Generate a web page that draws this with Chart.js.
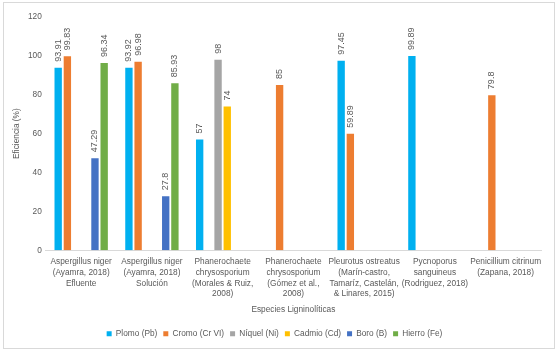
<!DOCTYPE html>
<html><head><meta charset="utf-8">
<script src="https://cdn.jsdelivr.net/npm/chart.js@4/dist/chart.umd.min.js"></script>
<style>
html,body{margin:0;padding:0;background:#fff;}
#wrap{position:absolute;left:3px;top:2px;width:552px;height:347px;border:1px solid #d9d9d9;box-sizing:border-box;}
</style></head><body>
<div id="wrap"><canvas id="c"></canvas></div>
<script>
const categories = [
  ["Aspergillus niger","(Ayamra, 2018)","Efluente"],
  ["Aspergillus niger","(Ayamra, 2018)","Solución"],
  ["Phanerochaete","chrysosporium","(Morales & Ruiz,","2008)"],
  ["Phanerochaete","chrysosporium","(Gómez et al.,","2008)"],
  ["Pleurotus ostreatus","(Marín-castro,","Tamaríz, Castelán,","& Linares, 2015)"],
  ["Pycnoporus","sanguineus","(Rodriguez, 2018)"],
  ["Penicillium citrinum","(Zapana, 2018)"]
];
const seriesNames = ["Plomo (Pb)","Cromo (Cr VI)","Níquel (Ni)","Cadmio (Cd)","Boro (B)","Hierro (Fe)"];
const plomo  = [93.91, 93.92, 57,   null, 97.45, 99.89, null];
const cromo  = [99.83, 96.98, null, 85,   59.89, null,  79.8];
const niquel = [null,  null,  98,   null, null,  null,  null];
const cadmio = [null,  null,  74,   null, null,  null,  null];
const boro   = [47.29, 27.8,  null, null, null,  null,  null];
const hierro = [96.34, 85.93, null, null, null,  null,  null];
const yTicks = [0,20,40,60,80,100,120];
const colors = ["#00B0F0","#ED7D31","#A5A5A5","#FFC000","#4472C4","#70AD47"];
const seriesValues = [plomo, cromo, niquel, cadmio, boro, hierro];

const FONT = "'Liberation Sans',Arial,sans-serif";
const TXT = "#595959";
const FS = 8.3;

const labelPlugin = {
  id:'vals',
  afterDatasetsDraw(chart){
    const ctx = chart.ctx;
    ctx.save();
    ctx.font = "9px " + FONT;
    ctx.fillStyle = TXT;
    ctx.textAlign = 'left';
    ctx.textBaseline = 'middle';
    chart.data.datasets.forEach((ds,i)=>{
      const meta = chart.getDatasetMeta(i);
      meta.data.forEach((bar,j)=>{
        const v = ds.data[j];
        if(v===null||v===undefined) return;
        ctx.save();
        ctx.translate(bar.x, bar.y - 6);
        ctx.rotate(-Math.PI/2);
        ctx.fillText(String(v), 0, 0);
        ctx.restore();
      });
    });
    ctx.restore();
  }
};

new Chart(document.getElementById('c'), {
  type:'bar',
  data:{
    labels: categories,
    datasets: seriesNames.map((n,i)=>({
      label:n, data:seriesValues[i], backgroundColor:colors[i],
      borderWidth:0, categoryPercentage:0.78, barPercentage:0.8
    }))
  },
  options:{
    responsive:true, maintainAspectRatio:false, animation:false,
    layout:{padding:{left:4,right:13,top:14,bottom:0}},
    plugins:{
      legend:{position:'bottom',
        labels:{boxWidth:5,boxHeight:5,font:{size:FS,family:FONT},color:TXT,padding:6}},
      tooltip:{enabled:false}
    },
    scales:{
      x:{
        grid:{display:false,drawTicks:false},
        border:{color:'#d9d9d9'},
        ticks:{font:{size:FS,family:FONT,lineHeight:1.3},color:TXT,maxRotation:0,autoSkip:false,padding:6},
        title:{display:true,text:'Especies Ligninolíticas',font:{size:FS,family:FONT,lineHeight:1.0},color:TXT,padding:{top:0,bottom:10}}
      },
      y:{
        min:0,max:120,
        afterBuildTicks(axis){ axis.ticks = yTicks.map(v=>({value:v})); },
        grid:{display:false,drawTicks:false},
        border:{display:false},
        ticks:{font:{size:FS,family:FONT},color:TXT,padding:4},
        title:{display:true,text:'Eficiencia (%)',font:{size:FS,family:FONT},color:TXT,padding:{bottom:2}}
      }
    }
  },
  plugins:[labelPlugin]
});
</script>
</body></html>
